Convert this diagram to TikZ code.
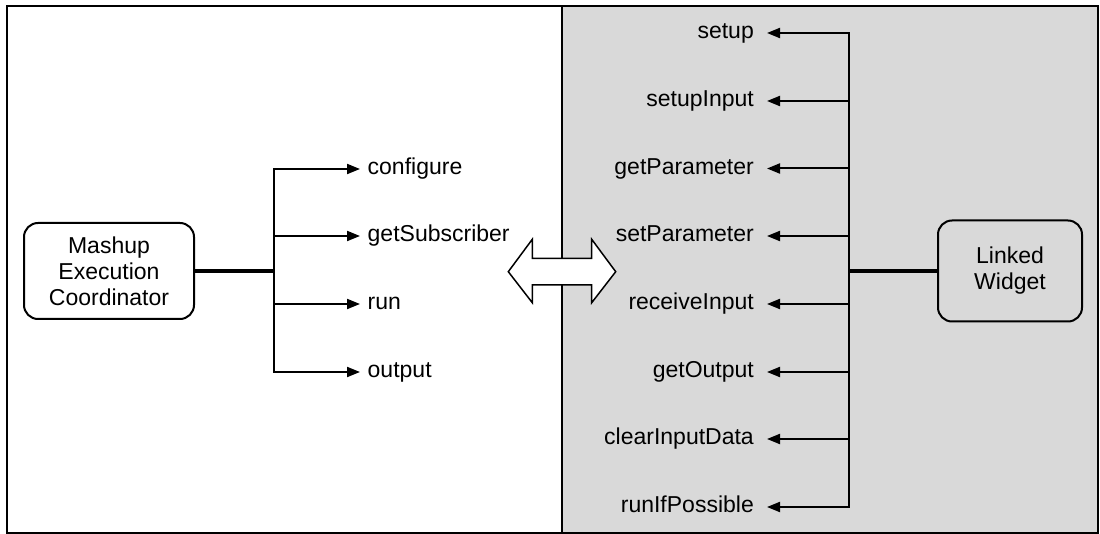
\documentclass[tikz,border=0pt]{standalone}
\usepackage{fontspec}
\setmainfont{Liberation Sans}
\usetikzlibrary{arrows.meta}
\definecolor{panelgray}{HTML}{D9D9D9}
\begin{document}
\begin{tikzpicture}[x=1pt,y=-1pt,
  font=\fontsize{23}{26}\selectfont,
  box/.style={draw, line width=2pt, rounded corners=14pt, align=center, inner sep=0pt},
  lbl/.style={inner ysep=0pt, text height=11.5pt, text depth=0pt},
  lblL/.style={lbl, anchor=west, inner xsep=7.5pt},
  lblR/.style={lbl, anchor=east, inner xsep=13pt},
  br/.style={line width=2pt, -{Triangle[length=13pt,width=10pt]}},
  conn/.style={line width=3.2pt}]
\useasboundingbox (0,0) rectangle (1100,534);
% panels
\fill[panelgray] (562,6) rectangle (1098,533);
\draw[line width=1.8pt] (562,6) -- (562,533);
\draw[line width=2.4pt] (7,6) rectangle (1098,533);
% boxes
\node[box, minimum width=170pt, minimum height=96pt] (mec) at (109,271) {Mashup\\Execution\\Coordinator};
\node[box, fill=panelgray, minimum width=144pt, minimum height=101pt] (lw) at (1010,271) {Linked\\Widget};
% left labels
\node[lblL] (cfg) at (360,169) {configure};
\node[lblL] (gsub) at (360,236) {getSubscriber};
\node[lblL] (run) at (360,304) {run};
\node[lblL] (out) at (360,372) {output};
% right labels
\node[lblR] (su) at (767,33) {setup};
\node[lblR] (sui) at (767,101) {setupInput};
\node[lblR] (gp) at (767,168.5) {getParameter};
\node[lblR] (sp) at (767,236) {setParameter};
\node[lblR] (ri) at (767,304) {receiveInput};
\node[lblR] (go) at (767,372) {getOutput};
\node[lblR] (cid) at (767,439) {clearInputData};
\node[lblR] (rip) at (767,507) {runIfPossible};
% junctions
\coordinate (lj) at (274,271);
\coordinate (rj) at (849.3,271);
\draw[conn] (mec.east) -- (lj);
\draw[conn] (lw.west) -- (rj);
\foreach \t in {cfg,gsub,run,out} \draw[br] (lj) |- (\t.west);
\foreach \t in {su,sui,gp,sp,ri,go,cid,rip} \draw[br] (rj) |- (\t.east);
% double arrow
\draw[fill=white, line width=1.5pt, line join=miter]
  (508.3,271.7) -- (532.3,239.3) -- (532.3,258.3) -- (591.7,258.3) -- (591.7,239.3)
  -- (615.7,271.7) -- (591.7,302.7) -- (591.7,285) -- (532.3,285) -- (532.3,302.7) -- cycle;
\end{tikzpicture}
\end{document}
